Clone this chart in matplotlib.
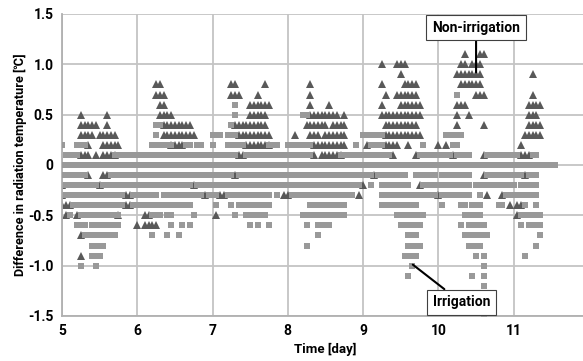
import numpy as np
import matplotlib.pyplot as plt

plt.rcParams['font.family'] = ['Roboto', 'DejaVu Sans']
plt.rcParams['font.weight'] = 'bold'

# time grid: one character = 0.05 day, starting at day 5
t0 = 5.0
dt = 0.05
E = ".......... .........."
F = "########## ##########"

# Non-irrigation (triangles), one row per 0.1 degC level, 7 groups = days 5..11
tri_levels = [1.1, 1.0, 0.9, 0.8, 0.7, 0.6, 0.5, 0.4, 0.3, 0.2, 0.1,
              -0.1, -0.2, -0.3, -0.4, -0.5, -0.6, -0.7, -0.9]
tri_rows = [
    [E, E, E, E, E, ".......#.. .##.......", E],
    [E, E, E, E, ".....#...# ##........", "......##.# ##........", E],
    [E, E, E, E, ".......... #.........", ".....##### ##........", ".....#.... .........."],
    [E, ".....##... ..........", ".....##... ....#.....", "......#... ..........", ".....#.... .####.....", "......#### ##........", E],
    [E, ".....###.. ..........", ".....###.. ..#.......", "......#... ..........", "......#..# #####.....", ".......... ###.......", ".....#.... .........."],
    [E, "......##.. ..........", ".......... ######....", "......#... .#........", ".....#.... ######....", ".....###.. ..........", "....####.. .........."],
    [".....#.... ..#.......", "......#### ..........", ".......... #####.....", "......#### ####.#....", ".....##### ######....", ".....#..#. ..........", "....###... .........."],
    [".....##### ..#.......", ".......### #####.....", "......#### #####.....", ".....##### #.####....", "......#### #####.....", ".....#.... ..#.......", "....####.. .........."],
    [".....####. #####.....", ".......### ######....", ".......### ######....", "..#...###. ######....", "......#### ######....", E, "...#####.. .........."],
    [".......#.. .#####....", ".........# ###.......", ".........# ######....", ".......### ######....", ".#....#### ..#.......", "#.#....... ..........", "..#....... .........."],
    [".....###.# .####.....", E, ".......##. ..........", ".......#.# #####.....", "........#. ....#.....", "....#..... ..#.......", "..###..... .........."],
    [".......#.. .##.......", E, "......#... ..........", E, "...#...... ..........", ".......... ..#.......", "...#...... .........."],
    ["#......... #.........", ".......... .....#....", E, E, "#......... .....#....", E, E],
    ["#......... .......##.", ".......... ........#.", "..##...... .........#", "#......... .........#", E, "#......... ...#...#..", E],
    ["###....... .......##.", E, E, E, E, ".......... .........#", ".##....... .........."],
    [".#..#..... .....#....", "..##...... ..........", ".#........ ..........", E, E, E, ".#........ .........."],
    [E, "#.####.... ..........", E, E, E, E, E],
    [".....#.... ..........", E, E, E, E, E, E],
    [".....#.... ..........", E, E, E, E, E, E],
]

# Irrigation (squares)
sq_levels = [0.7, 0.6, 0.5, 0.4, 0.3, 0.2, 0.1, 0.0, -0.1, -0.2, -0.3, -0.4,
             -0.5, -0.6, -0.7, -0.8, -0.9, -1.0, -1.1, -1.2, -1.3, -1.4, -1.5]
sq_rows = [
    [E, E, E, E, E, ".....#.... ..........", E],
    [E, E, "......#... ..........", E, E, E, E],
    [E, E, "......#... ..........", "....##.... ..........", E, E, E],
    [E, ".....##... ..........", ".....#.... ..........", E, E, E, E],
    [E, ".....#.... ..........", "###.###... ..........", E, "######.... ..........", "..#####... ..........", E],
    ["#...###... ..........", "....###### ...##.##..", "#...#####. .....###..", "#######... ........#.", "..####.... ......#...", "....##.... ..........", E],
    [".####..... ....######", F, "#######..# ##########", "#######... ....######", "########.. .....#####", "####.####. ...#######", "##...##... .........."],
    [F, F, F, F, F, F, "########## ##........"],
    ["#######... ...#######", F, "######.### ##########", F, "###.###### ##..######", ".########. ...#######", "###.###... .........."],
    [".######### .#########", "########## #####.####", F, F, "..#..##### ###...####", "#########. ##########", "#.#####... .........."],
    [".######### #######..#", "######.### ########.#", "##..###### ######.#..", ".######### ########..", ".....##### ##########", ".########. .#......##", "#######... .........."],
    ["...####### #######..#", "########## #####.....", ".#...#.### ######....", "......#### ######....", ".....##### #####.....", ".#....##.# ##....##..", "...#..#... .........."],
    ["..#..##### ######....", "....###.## .....#....", "......#..# #####.....", "....###### ######....", ".........# #######...", ".......### ##........", "..######.. .........."],
    ["....###.## ######....", ".........# ..#.#.....", ".......... #.#..#....", ".....#..## ##........", ".......... ######....", "......#.## ###.......", "..#.####.. .........."],
    ["......#### #####.....", "....#...#. .#........", E, "........#. ..........", ".......... ..###.....", ".......### ####......", ".......#.. .........."],
    ["........## ##........", E, E, ".....#.... ..........", ".......... ..####....", "........## ##........", "......#... .........."],
    ["........## #.........", E, E, E, ".......... .####.....", ".......... #.#.......", "...#...... .........."],
    [".....#...# ..........", E, E, E, ".......... ...#......", ".......... ..#.......", E],
    [E, E, E, E, ".......... ..#.......", ".........# ..#.......", E],
    [E, E, E, E, E, ".......... ..#.......", E],
    [E, E, E, E, E, ".......... ..#.......", E],
    [E, E, E, E, E, ".......... ..#.......", E],
    [E, E, E, E, E, ".......... ..#.......", E],
]

yticks = [-1.5, -1.0, -0.5, 0, 0.5, 1.0, 1.5]
ytick_labels = ['-1.5', '-1.0', '-0.5', '0', '0.5', '1.0', '1.5']
xticks = [5, 6, 7, 8, 9, 10, 11]


def points(levels, rows):
    xs, ys = [], []
    for lev, groups in zip(levels, rows):
        s = "".join(groups).replace(" ", "")
        for i, c in enumerate(s):
            if c == "#":
                xs.append(t0 + dt * i)
                ys.append(lev)
    return np.array(xs), np.array(ys)


tx, ty = points(tri_levels, tri_rows)
sx, sy = points(sq_levels, sq_rows)

fig = plt.figure(figsize=(5.83, 3.61), dpi=100)
ax = fig.add_axes([0.1063, 0.1247, 0.904, 0.8366])

ax.plot(tx, ty, linestyle='none', marker='^', markersize=6,
        markeredgewidth=0, color='#595959', zorder=2)
ax.plot(sx, sy, linestyle='none', marker='s', markersize=5,
        markeredgewidth=0, color='#999999', zorder=3)

ax.set_xlim(5, 12)
ax.set_ylim(-1.5, 1.5)
ax.set_xticks(xticks)
ax.set_yticks(yticks)
ax.set_yticklabels(ytick_labels)
ax.tick_params(length=0, labelsize=10, pad=6)
ax.grid(True, color='#c4c4c4', linewidth=1.3)
ax.set_axisbelow(True)
for side in ['top', 'right']:
    ax.spines[side].set_visible(False)
for side in ['left', 'bottom']:
    ax.spines[side].set_color('#b0b0b0')
    ax.spines[side].set_linewidth(1.3)

ax.set_xlabel('Time [day]', fontsize=9.5, fontweight='bold')
ax.set_ylabel('Difference in radiation temperature [℃]', fontsize=9.2, fontweight='bold')
ax.xaxis.set_label_coords(0.5, -0.088)
ax.yaxis.set_label_coords(-0.066, 0.5)

box = dict(boxstyle='square,pad=0.42', fc='white', ec='#404040', lw=0.8)
ax.annotate('Non-irrigation', xy=(10.50, 0.92), xytext=(10.50, 1.365),
            ha='center', va='center', fontsize=10, fontweight='bold', bbox=box,
            arrowprops=dict(arrowstyle='-', color='black', lw=1.5, shrinkA=0, shrinkB=0),
            zorder=6)
ax.annotate('Irrigation', xy=(9.66, -0.99), xytext=(10.305, -1.365),
            ha='center', va='center', fontsize=10, fontweight='bold', bbox=box,
            arrowprops=dict(arrowstyle='-', color='black', lw=1.5, shrinkA=0, shrinkB=0),
            zorder=6)

fig.savefig('out.png', dpi=100)
